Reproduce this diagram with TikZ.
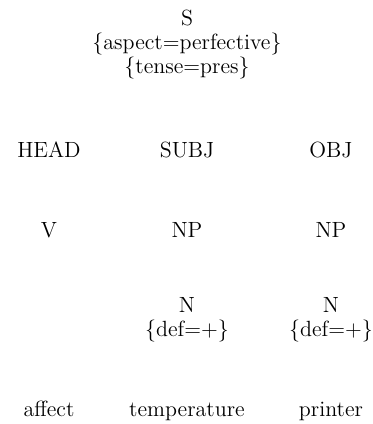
\documentclass[tikz,border=0pt]{standalone}
\usepackage{amsmath, amssymb}
\usepackage{tikz}

\begin{document}
\begin{tikzpicture}[x=1pt, y=-1pt,
    cat/.style={inner sep=0pt, anchor=base, align=center, font=\fontsize{11}{12}\selectfont},
    feat/.style={cat, anchor=north}]
        \useasboundingbox (0,0) rectangle (186.5,212);
        % root with features
        \node[feat] (s) at (93.5,5) {S\\\{aspect=perfective\}\\\{tense=pres\}};
        % functions
        \node[cat] (head) at (24.5,78.5) {HEAD};
        \node[cat] (subj) at (93.5,78.5) {SUBJ};
        \node[cat] (obj) at (165.5,78.5) {OBJ};
        % categories
        \node[cat] (v) at (24.5,118.5) {V};
        \node[cat] (np1) at (93.5,118.5) {NP};
        \node[cat] (np2) at (165.5,118.5) {NP};
        \node[feat] (n1) at (93.5,148.5) {N\\\{def=+\}};
        \node[feat] (n2) at (165.5,148.5) {N\\\{def=+\}};
        % words
        \node[cat] (affect) at (24.5,208) {affect};
        \node[cat] (temperature) at (93.5,208) {temperature};
        \node[cat] (printer) at (165.5,208) {printer};
      \end{tikzpicture}
\end{document}
